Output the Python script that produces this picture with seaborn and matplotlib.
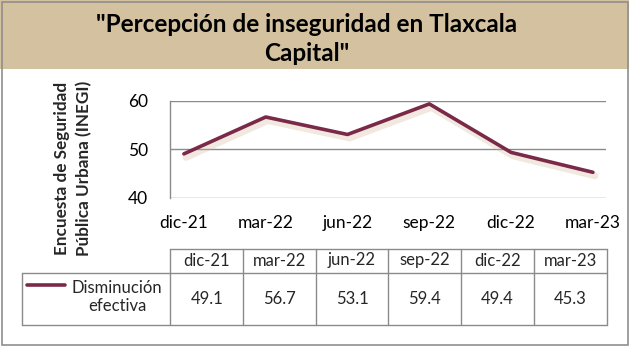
import numpy as np
import pandas as pd
import matplotlib
matplotlib.use("Agg")
import matplotlib.pyplot as plt
import matplotlib.patheffects as pe
from matplotlib.patches import Rectangle
from matplotlib.lines import Line2D
import seaborn as sns

# Survey periods and perception values
periods = ["dic-21", "mar-22", "jun-22", "sep-22", "dic-22", "mar-23"]
values = [49.1, 56.7, 53.1, 59.4, 49.4, 45.3]
series_name = "Disminución\nefectiva"
title_text = "\"Percepción de inseguridad en Tlaxcala\nCapital\""
ylabel_text = "Encuesta de Seguridad\nPública Urbana (INEGI)"
yticks = [40, 50, 60]

df = pd.DataFrame({"pos": np.arange(len(periods)), "valor": values})

sns.set_theme(style="white")
plt.rcParams["font.family"] = ["Lato", "DejaVu Sans"]

W, H = 629, 347
fig = plt.figure(figsize=(W / 100, H / 100), dpi=100)
fig.patch.set_facecolor("white")

def fx(x):
    return x / W

def fy(y):
    return 1 - y / H

LINE = "#7a2a48"
GRID = "#8a8a8a"
BAND = "#d4c19f"

# title band
fig.add_artist(Rectangle((0, fy(69)), 1, 69 / H, transform=fig.transFigure,
                         facecolor=BAND, edgecolor="none", zorder=0))
fig.text(fx(307), fy(39), title_text, ha="center", va="center", fontsize=17.5,
         fontweight="bold", color="black", linespacing=1.3)

# outer frame
fig.add_artist(Rectangle((fx(2), fy(345)), fx(626), (343) / H, transform=fig.transFigure,
                         facecolor="none", edgecolor="#8f8f8f", linewidth=1.2, zorder=5))

# plot area
left, right, top, bottom = 170, 606, 101, 198
ax = fig.add_axes([fx(left), fy(bottom), fx(right - left), (bottom - top) / H])
ax.set_facecolor("none")

sns.lineplot(data=df, x="pos", y="valor", ax=ax, color=LINE, linewidth=2.6,
             path_effects=[pe.SimpleLineShadow(offset=(1.5, -2.5), shadow_color="#d2b49a",
                                               alpha=0.3, linewidth=5),
                           pe.Normal()])

ax.set_xlim(-0.17, 5.16)
ax.set_ylim(40, 60)
ax.set_yticks(yticks)
ax.set_xticks(df["pos"])
ax.set_xticklabels(periods)
ax.tick_params(axis="both", length=0, labelsize=12.5, colors="black")
ax.tick_params(axis="x", pad=12)
ax.tick_params(axis="y", pad=16)
ax.set_xlabel("")
ax.set_ylabel("")
for y in yticks:
    ax.axhline(y, color=GRID, linewidth=1.0, zorder=0)
for s in ["top", "right", "bottom"]:
    ax.spines[s].set_visible(False)
ax.spines["left"].set_color(GRID)
ax.spines["left"].set_linewidth(1.0)

fig.text(fx(73.5), fy(168), ylabel_text, rotation=90, ha="center", va="center",
         fontsize=12.3, fontweight="bold", linespacing=1.45)

# data table under the chart
col0, colw = 170.3, 72.7
hdr_top, hdr_bot, row_bot = 248.5, 272.5, 324.5
leg_left = 21.7
n = len(periods)
tkw = dict(transform=fig.transFigure, color=GRID, linewidth=1.0)
x_end = col0 + n * colw
fig.add_artist(Line2D([fx(col0), fx(x_end)], [fy(hdr_top)] * 2, **tkw))
fig.add_artist(Line2D([fx(leg_left), fx(x_end)], [fy(hdr_bot)] * 2, **tkw))
fig.add_artist(Line2D([fx(leg_left), fx(x_end)], [fy(row_bot)] * 2, **tkw))
fig.add_artist(Line2D([fx(leg_left)] * 2, [fy(hdr_bot), fy(row_bot)], **tkw))
for i in range(n + 1):
    xb = col0 + i * colw
    fig.add_artist(Line2D([fx(xb)] * 2, [fy(hdr_top), fy(row_bot)], **tkw))
for i, (p, v) in enumerate(zip(periods, values)):
    xc = col0 + (i + 0.5) * colw
    fig.text(fx(xc), fy(260.5), p, ha="center", va="center", fontsize=12)
    fig.text(fx(xc), fy(298.5), f"{v:.1f}", ha="center", va="center", fontsize=12)

# legend key inside the table
fig.add_artist(Line2D([fx(26.5), fx(65)], [fy(285)] * 2, transform=fig.transFigure,
                      color=LINE, linewidth=2.6))
fig.text(fx(117), fy(297), series_name, ha="center", va="center", fontsize=12,
         linespacing=1.15)

fig.savefig("out.png", dpi=100, facecolor="white")
